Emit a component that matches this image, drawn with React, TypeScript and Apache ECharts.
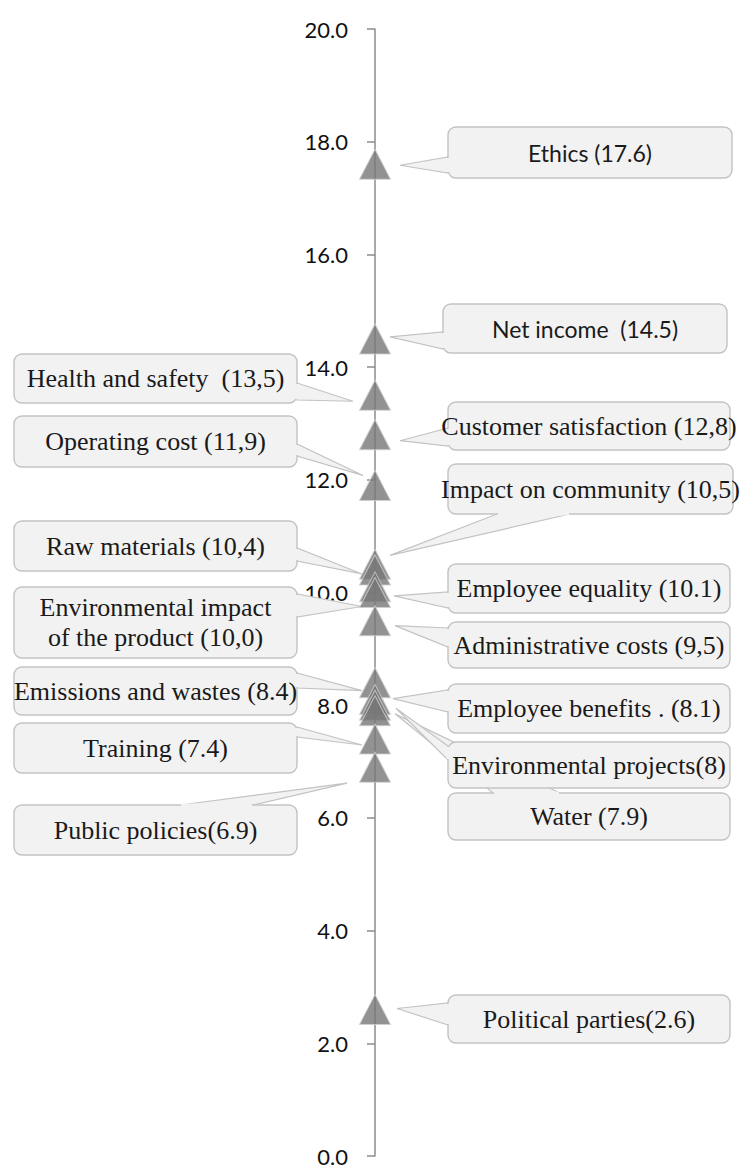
import React, { useEffect, useRef } from "react";
import * as echarts from "echarts";

// ---- data ----
const labels: string[] = [
  "Ethics (17.6)",
  "Net income  (14.5)",
  "Health and safety  (13,5)",
  "Customer satisfaction (12,8)",
  "Operating cost (11,9)",
  "Impact on community (10,5)",
  "Raw materials (10,4)",
  "Employee equality (10.1)",
  "Environmental impact\nof the product (10,0)",
  "Administrative costs (9,5)",
  "Emissions and wastes (8.4)",
  "Employee benefits . (8.1)",
  "Water (7.9)",
  "Environmental projects(8)",
  "Training (7.4)",
  "Public policies(6.9)",
  "Political parties(2.6)",
];
const values: number[] = [17.6, 14.5, 13.5, 12.8, 11.9, 10.5, 10.4, 10.1, 10.0, 9.5, 8.4, 8.1, 7.9, 8.0, 7.4, 6.9, 2.6];
const yTicks = { min: 0, max: 20, interval: 2 };

// ---- layout of callouts (pixels) ----
const boxes: number[][] = [
  [448, 127, 732, 178],
  [443, 304, 727, 353],
  [14, 354, 297, 403],
  [448, 402, 730, 450],
  [14, 416, 297, 467],
  [448, 464, 733, 514],
  [14, 521, 297, 571],
  [448, 564, 730, 613],
  [14, 587, 297, 658],
  [448, 622, 730, 668],
  [14, 667, 297, 715],
  [448, 684, 730, 733],
  [448, 793, 730, 840],
  [448, 742, 730, 788],
  [14, 723, 297, 773],
  [14, 805, 297, 855],
  [448, 995, 730, 1043],
];
const wedgeSide: string[] = ["l", "l", "r", "l", "r", "b", "r", "l", "r", "l", "r", "l", "t", "l", "r", "t", "l"];
const wedgeBase: number[][] = [
  [157, 173], [332, 349], [383, 400], [428, 446], [444, 456], [497, 570], [548, 561], [592, 608],
  [594, 617], [628, 647], [673, 688], [690, 712], [493, 560], [746, 760], [727, 737], [180, 253], [1003, 1025],
];
const tipOffset: number[][] = [
  [25, 1], [15, -2], [-22, 6], [25, 6], [-12, -10], [15, -9], [-13, 4], [19, 9],
  [-13, 14], [20, 5], [-13, 8], [18, -1], [20, 3], [21, 3], [-13, 6], [-28, 16], [22, -1],
];
const sansLabel: boolean[] = [true, true, false, false, false, false, false, false, false, false, false, false, false, false, false, false, false];

const BOX_FILL = "#f2f2f2";
const BOX_STROKE = "#c3c3c3";

export default function App() {
  const ref = useRef<HTMLDivElement>(null);
  useEffect(() => {
    if (!ref.current) return;
    const chart = echarts.init(ref.current, null, { renderer: "svg" });

    const order = values.map((v, i) => i).sort((a, b) => values[b] - values[a]);

    const renderItem = (params: any, api: any) => {
      const i = params.dataIndex;
      const p = api.coord([0, api.value(1)]);
      const tip = [p[0] + tipOffset[i][0], p[1] + tipOffset[i][1]];
      const [x0, y0, x1, y1] = boxes[i];
      const [a, b] = wedgeBase[i];
      const side = wedgeSide[i];
      let base: number[][];
      let cover: any;
      if (side === "l") {
        base = [[x0, a], [x0, b]];
        cover = { x: x0 - 1.5, y: a + 1, width: 3.5, height: b - a - 2 };
      } else if (side === "r") {
        base = [[x1, b], [x1, a]];
        cover = { x: x1 - 2, y: a + 1, width: 3.5, height: b - a - 2 };
      } else if (side === "t") {
        base = [[a, y0], [b, y0]];
        cover = { x: a + 1, y: y0 - 1.5, width: b - a - 2, height: 3.5 };
      } else {
        base = [[a, y1], [b, y1]];
        cover = { x: a + 1, y: y1 - 2, width: b - a - 2, height: 3.5 };
      }
      const sans = sansLabel[i];
      return {
        type: "group",
        children: [
          {
            type: "polygon",
            shape: { points: [tip, base[0], base[1]] },
            style: { fill: BOX_FILL, stroke: BOX_STROKE, lineWidth: 1.2 },
          },
          {
            type: "rect",
            shape: { x: x0, y: y0, width: x1 - x0, height: y1 - y0, r: 8 },
            style: { fill: BOX_FILL, stroke: BOX_STROKE, lineWidth: 1.4 },
          },
          {
            type: "rect",
            shape: cover,
            style: { fill: BOX_FILL },
          },
          {
            type: "text",
            style: {
              text: labels[i],
              x: (x0 + x1) / 2,
              y: (y0 + y1) / 2,
              align: "center",
              verticalAlign: "middle",
              fontFamily: sans ? "Lato" : "Liberation Serif",
              fontSize: sans ? 23 : 26,
              lineHeight: 30,
              fill: "#1a1a1a",
            },
          },
        ],
      };
    };

    chart.setOption({
      animation: false,
      grid: { left: 375, right: 10, top: 29, bottom: 13 },
      xAxis: { type: "value", min: 0, max: 1, show: false },
      yAxis: {
        type: "value",
        min: yTicks.min,
        max: yTicks.max,
        interval: yTicks.interval,
        axisLine: { show: true, lineStyle: { color: "#8c8c8c", width: 1.5 } },
        axisTick: { show: true, length: 8, lineStyle: { color: "#8c8c8c", width: 1.5 } },
        splitLine: { show: false },
        axisLabel: {
          margin: 27,
          formatter: (v: number) => v.toFixed(1),
          fontFamily: "Lato",
          fontSize: 22,
          lineHeight: 18,
          color: "#111111",
        },
      },
      series: [
        {
          type: "custom",
          clip: false,
          silent: true,
          renderItem,
          data: values.map((v) => [0, v]),
          z: 2,
        },
        {
          type: "scatter",
          symbol: "triangle",
          symbolSize: [31, 30],
          silent: true,
          itemStyle: { color: "#777777", borderColor: "#cfcfcf", borderWidth: 1 },
          data: order.map((i) => [0, values[i]]),
          z: 5,
        },
      ],
    });
    return () => chart.dispose();
  }, []);
  return (
    <div
      ref={ref}
      style={{ position: "absolute", left: 0, top: 0, width: 744, height: 1169, background: "#fff" }}
    />
  );
}
